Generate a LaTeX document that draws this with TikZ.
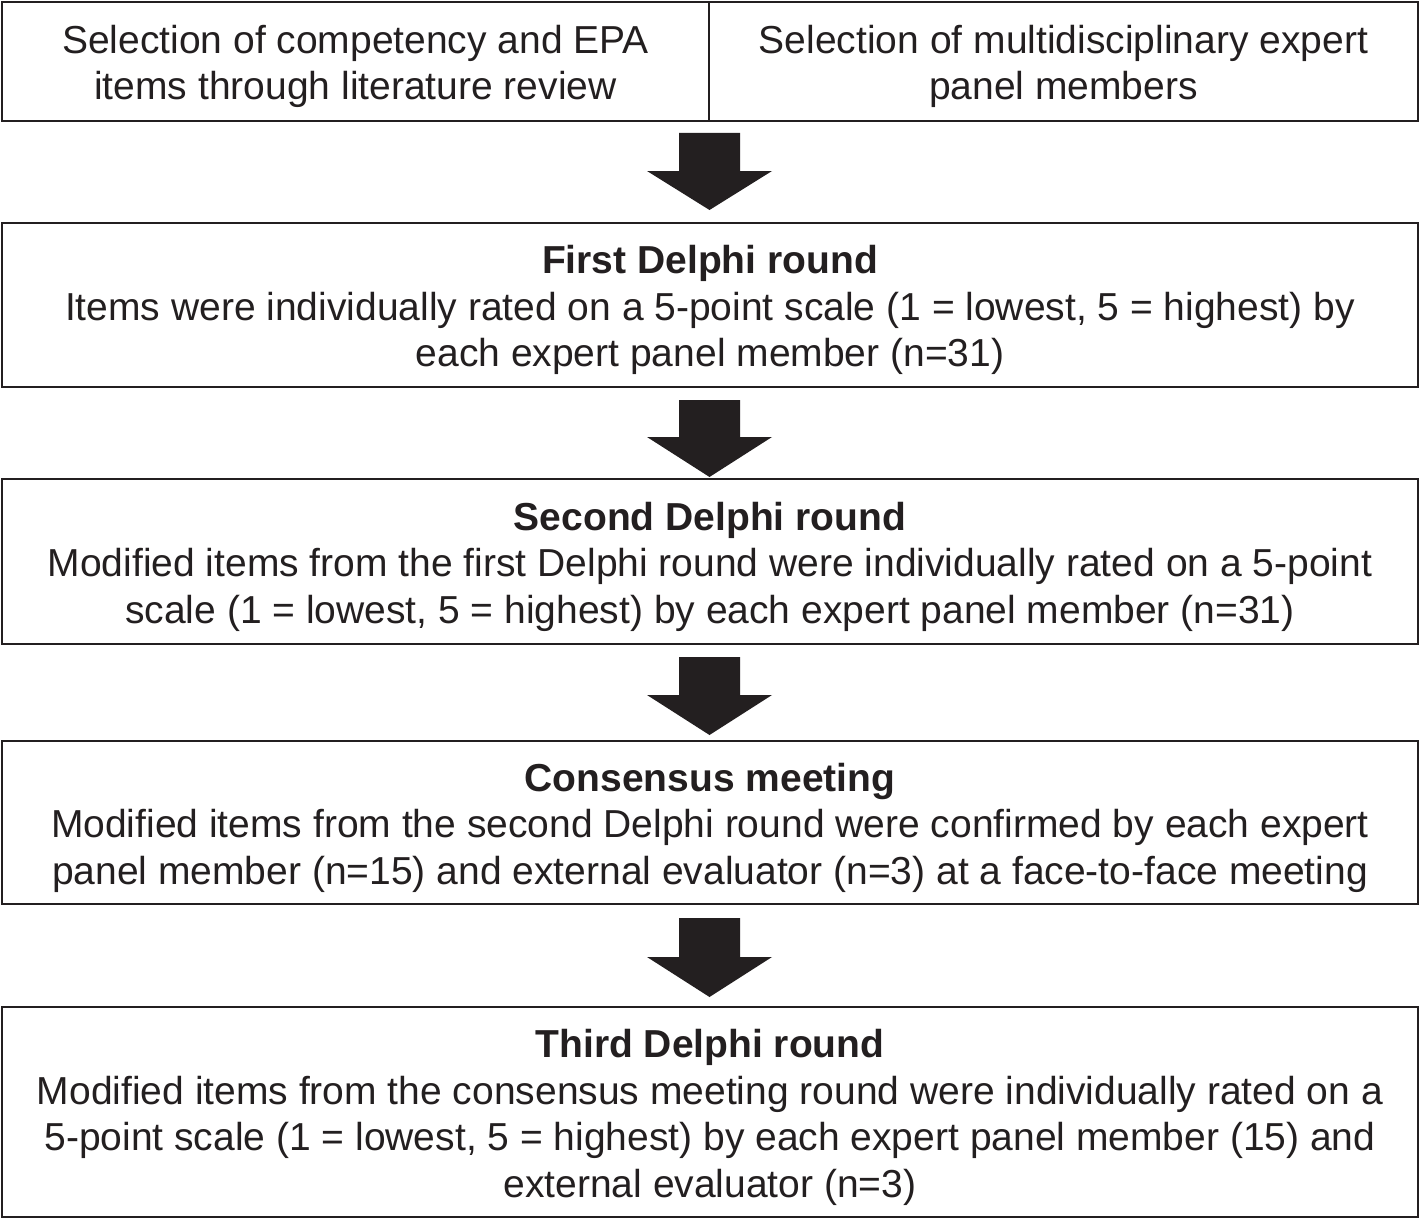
\documentclass[tikz,border=0pt]{standalone}
\usepackage{fontspec}
\setmainfont{Liberation Sans}
\definecolor{ink}{HTML}{231F20}
\newcommand\bigarrow[4]{% x, top of shaft, head base, tip
  \fill[ink] (#1-30.5,#2) -- (#1+30.5,#2) -- (#1+30.5,#3) -- (#1+62.5,#3)
    -- (#1,#4) -- (#1-62.5,#3) -- (#1-30.5,#3) -- cycle;}
\begin{document}
\begin{tikzpicture}[x=1pt,y=-1pt,
  box/.style={draw=ink, line width=2pt, inner sep=0pt},
  txt/.style={align=center, inner sep=0pt, text=ink,
    font=\fontsize{39}{46.5}\selectfont}]
\useasboundingbox[fill=white] (0,0) rectangle (1424,1220);
\node[box, minimum width=707, minimum height=119] (sel1) at (355.5,61.5) {};
\node[box, minimum width=709, minimum height=119] (sel2) at (1063.5,61.5) {};
\node[box, minimum width=1416, minimum height=164] (r1) at (710,305) {};
\node[box, minimum width=1416, minimum height=165] (r2) at (710,561.5) {};
\node[box, minimum width=1416, minimum height=163] (cm) at (710,822.5) {};
\node[box, minimum width=1416, minimum height=210] (r3) at (710,1112) {};
\node[txt] (t1) at ([yshift=-5pt]sel1.center)
  {Selection of competency and EPA\\items through literature review};
\node[txt] (t2) at ([yshift=-5pt]sel2.center)
  {Selection of multidisciplinary expert\\panel members};
\node[txt] (t3) at ([yshift=-5pt]r1.center)
  {\textbf{First Delphi round}\\Items were individually rated on a 5-point scale (1 = lowest, 5 = highest) by\\each expert panel member (n=31)};
\node[txt] (t4) at ([yshift=-5pt]r2.center)
  {\textbf{Second Delphi round}\\Modified items from the first Delphi round were individually rated on a 5-point\\scale (1 = lowest, 5 = highest) by each expert panel member (n=31)};
\node[txt] (t5) at ([yshift=-5pt]cm.center)
  {\textbf{Consensus meeting}\\Modified items from the second Delphi round were confirmed by each expert\\panel member (n=15) and external evaluator (n=3) at a face-to-face meeting};
\node[txt] (t6) at ([yshift=-5.5pt]r3.center)
  {\textbf{Third Delphi round}\\Modified items from the consensus meeting round were individually rated on a\\5-point scale (1 = lowest, 5 = highest) by each expert panel member (15) and\\external evaluator (n=3)};
\bigarrow{709.5}{133}{171}{210}
\bigarrow{709.5}{400}{437}{477}
\bigarrow{709.5}{657}{695}{735}
\bigarrow{709.5}{918}{957}{997}
\end{tikzpicture}
\end{document}
